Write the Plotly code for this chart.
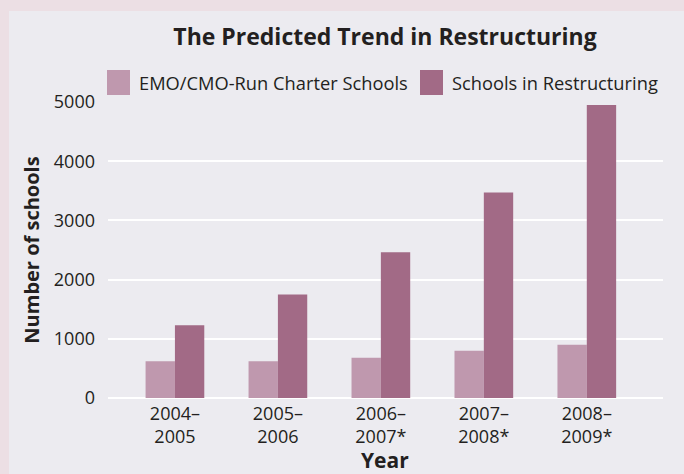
import plotly.graph_objects as go

years = ["2004–<br>2005", "2005–<br>2006", "2006–<br>2007*", "2007–<br>2008*", "2008–<br>2009*"]
emo_cmo = [620, 620, 680, 800, 900]
restructuring = [1230, 1750, 2460, 3470, 4950]
y_ticks = [0, 1000, 2000, 3000, 4000, 5000]
series_names = ["EMO/CMO-Run Charter Schools", "Schools in Restructuring"]
series_colors = ["#bf98ae", "#a26a86"]

W, H = 684, 474
L, R, T, B = 108, 21, 102, 76
pw, ph = W - L - R, H - T - B

def px_x(x):
    return (x - L) / pw

def px_y(y):
    return (H - B - y) / ph

fig = go.Figure()
fig.add_trace(go.Bar(x=years, y=emo_cmo, name=series_names[0], showlegend=False,
                     marker=dict(color=series_colors[0], line=dict(width=0))))
fig.add_trace(go.Bar(x=years, y=restructuring, name=series_names[1], showlegend=False,
                     marker=dict(color=series_colors[1], line=dict(width=0))))

# inner light panel
fig.add_shape(type="rect", xref="paper", yref="paper",
              x0=px_x(9), x1=px_x(700), y0=px_y(490), y1=px_y(11),
              fillcolor="#ecebf0", line=dict(width=0), layer="below")

font_family = "Open Sans, DejaVu Sans, sans-serif"
text_color = "#231f20"

# custom legend (large swatches)
legend_items = [(107, 137), (420, 450)]
for (sx, tx), name, col in zip(legend_items, series_names, series_colors):
    fig.add_shape(type="rect", xref="paper", yref="paper",
                  x0=px_x(sx), x1=px_x(sx + 23), y0=px_y(95), y1=px_y(70),
                  fillcolor=col, line=dict(width=0))
    fig.add_annotation(xref="paper", yref="paper", x=px_x(tx), y=px_y(82),
                       xanchor="left", yanchor="middle", showarrow=False,
                       text=name, font=dict(size=18.3, family=font_family, color=text_color))

# x-axis title
fig.add_annotation(xref="paper", yref="paper", x=px_x(385), y=px_y(460),
                   xanchor="center", yanchor="middle", showarrow=False,
                   text="<b>Year</b>", font=dict(size=21, family=font_family, color=text_color))

fig.update_layout(
    width=W, height=H,
    margin=dict(l=L, r=R, t=T, b=B, autoexpand=False),
    paper_bgcolor="#ecdfe4",
    plot_bgcolor="#ecebf0",
    barmode="group",
    bargap=0.43,
    bargroupgap=0,
    font=dict(family=font_family, color=text_color, size=18),
    title=dict(text="<b>The Predicted Trend in Restructuring</b>",
               x=px_x(385), xref="paper", xanchor="center",
               y=1 - 37 / H, yanchor="middle",
               font=dict(size=23, family=font_family, color=text_color)),
    showlegend=False,
)
fig.update_xaxes(
    range=[-0.65, 4.74],
    automargin=False,
    showgrid=False, zeroline=False, showline=False,
    tickfont=dict(size=18),
    ticks="",
    ticklabelstandoff=3,
)
fig.update_yaxes(
    range=[0, 5000], tickvals=y_ticks,
    automargin=False,
    showgrid=True, gridcolor="white", gridwidth=2,
    zeroline=True, zerolinecolor="white", zerolinewidth=2,
    showline=False, ticks="",
    tickfont=dict(size=18),
    ticklabelstandoff=12,
    title=dict(text="<b>Number of schools</b>", font=dict(size=20), standoff=8),
)

fig.write_html("out.html", config={"displayModeBar": False},
               post_script="document.body.style.margin='0';document.body.style.padding='0';")
